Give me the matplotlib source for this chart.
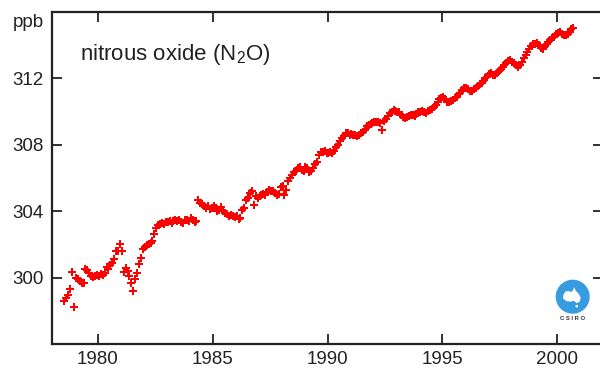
import numpy as np
import pandas as pd
import matplotlib
matplotlib.use("Agg")
import matplotlib.pyplot as plt
from matplotlib.patches import Circle, Polygon

plt.rcParams["font.family"] = ["Liberation Sans", "DejaVu Sans"]
plt.rcParams["mathtext.fontset"] = "custom"
plt.rcParams["mathtext.rm"] = "Liberation Sans"

# Monthly mean N2O (ppb), Cape Grim, starting July 1978
first_month = "1978-07"
n2o_1978_1984 = [
    298.6, 298.8, 298.95, 299.3, 300.35, 298.25,
    299.95, 299.9, 299.8, 299.7, 299.65, 300.5, 300.45, 300.3, 300.1, 300.05, 300.1, 300.15,
    300.1, 300.2, 300.15, 300.25, 300.65, 300.5, 300.75, 300.85, 301.1, 301.6, 301.6, 302.05,
    301.6, 300.35, 300.6, 300.4, 300.1, 299.65, 299.2, 299.9, 300.3, 300.8, 301.2, 301.75,
    301.85, 301.95, 302.0, 302.1, 302.2, 302.6, 303.0, 303.15, 303.2, 303.3, 303.25, 303.35,
    303.35, 303.4, 303.3, 303.4, 303.45, 303.4, 303.5, 303.35, 303.3, 303.45, 303.5, 303.4,
    303.6, 303.45, 303.35, 303.4, 304.7, 304.5, 304.45, 304.3, 304.2, 304.3, 304.15, 304.2,
]
n2o_1985_1991 = [
    304.3, 304.2, 304.0, 304.1, 304.25, 304.0, 303.9, 303.85, 303.7, 303.75, 303.7, 303.65,
    303.7, 303.55, 303.6, 304.1, 304.2, 304.7, 304.8, 305.1, 305.2, 304.4, 304.9, 304.8,
    304.9, 305.0, 305.05, 305.0, 305.15, 305.3, 305.2, 305.2, 305.1, 305.0, 305.05, 305.45,
    305.5, 305.0, 305.3, 305.8, 306.0, 306.2, 306.35, 306.45, 306.6, 306.65, 306.5, 306.4,
    306.65, 306.6, 306.35, 306.4, 306.6, 306.85, 306.95, 307.4, 307.55, 307.55, 307.6, 307.5,
    307.5, 307.55, 307.5, 307.6, 307.85, 308.0, 308.2, 308.4, 308.55, 308.7, 308.7, 308.6,
    308.65, 308.6, 308.6, 308.55, 308.6, 308.7, 308.8, 308.9, 309.15, 309.2, 309.25, 309.3,
]
n2o_1992_2000 = [
    309.35, 309.4, 309.4, 309.3, 308.9, 309.45, 309.55, 309.75, 309.9, 309.95, 310.1, 310.05,
    310.0, 309.95, 309.8, 309.65, 309.6, 309.7, 309.75, 309.8, 309.8, 309.75, 309.85, 309.95,
    310.0, 310.05, 309.95, 309.9, 310.05, 310.1, 310.15, 310.25, 310.4, 310.6, 310.75, 310.8,
    310.85, 310.75, 310.6, 310.6, 310.65, 310.7, 310.8, 310.9, 311.05, 311.15, 311.3, 311.45,
    311.45, 311.35, 311.25, 311.25, 311.35, 311.45, 311.55, 311.65, 311.75, 311.85, 312.0, 312.1,
    312.25, 312.3, 312.2, 312.2, 312.3, 312.45, 312.55, 312.7, 312.8, 312.95, 313.05, 313.1,
    313.0, 312.9, 312.8, 312.7, 312.8, 313.0, 313.2, 313.4, 313.6, 313.8, 313.95, 314.05,
    314.1, 314.15, 314.0, 313.85, 313.8, 313.95, 314.1, 314.2, 314.3, 314.45, 314.5, 314.65,
    314.75, 314.8, 314.7, 314.6, 314.6, 314.7, 314.8, 314.95, 315.05,
]
year_ticks = [1980, 1985, 1990, 1995, 2000]
ppb_ticks = [300, 304, 308, 312]

values = np.array(n2o_1978_1984 + n2o_1985_1991 + n2o_1992_2000)
months = pd.date_range(first_month, periods=len(values), freq="MS")
years = months.year + (months.month - 0.5) / 12.0

W, H = 600, 373
fig = plt.figure(figsize=(W / 100, H / 100), dpi=100)
ax = fig.add_axes([52 / W, 29 / H, 551 / W, 332 / H])

ink = "#222222"
ax.plot(years, values, linestyle="none", marker="P", markersize=5.4,
        markeredgewidth=0, color="#ff0000")

ax.set_xlim(1978, 2002)
ax.set_ylim(296, 316)
ax.set_xticks(year_ticks)
ax.set_yticks(ppb_ticks)
ax.tick_params(direction="in", length=7.5, width=1.3, color=ink,
               labelsize=13.5, labelcolor=ink, top=True, right=True)
ax.tick_params(axis="x", pad=5)
ax.tick_params(axis="y", pad=6)
for s in ax.spines.values():
    s.set_linewidth(1.6)
    s.set_color(ink)

# unit label at the top of the value axis
ax.annotate("ppb", xy=(0, 315.1), xycoords=ax.get_yaxis_transform(),
            xytext=(-8, 0), textcoords="offset pixels",
            ha="right", va="baseline", fontsize=13.5, color=ink)

fig.text(80 / W, 1 - 60 / H, r"nitrous oxide (N$_{\mathrm{2}}$O)",
         ha="left", va="baseline", fontsize=16, color=ink)

# CSIRO badge
logo = fig.add_axes([(572.7 - 20) / W, (H - 296.7 - 20) / H, 40 / W, 40 / H])
logo.set_xlim(-20, 20)
logo.set_ylim(-20, 20)
logo.axis("off")
blue = "#1e8fdc"
logo.add_patch(Circle((0, 0), 17, facecolor=blue, edgecolor="none"))
for xs in np.arange(-16, 17, 2.0):
    logo.plot([xs, xs], [-17, 17], color="white", lw=0.35, alpha=0.45)
aus = [(-9.5, 1.5), (-7.5, 5.0), (-4.0, 6.0), (-2.0, 4.5), (0.0, 6.0), (1.5, 9.5),
       (3.0, 6.0), (6.0, 3.0), (8.0, -1.0), (7.0, -5.0), (4.0, -6.5), (1.0, -4.0),
       (-2.0, -5.0), (-6.0, -4.5), (-9.5, -2.0)]
logo.add_patch(Polygon(aus, closed=True, facecolor="white", edgecolor="none"))
logo.add_patch(Circle((4.0, -9.5), 1.3, facecolor="white", edgecolor="none"))
fig.text(572.7 / W, 1 - 318 / H, "C S I R O", ha="center", va="center",
         fontsize=4.2, fontweight="bold", color="#333333")

fig.savefig("out.png", dpi=100)
